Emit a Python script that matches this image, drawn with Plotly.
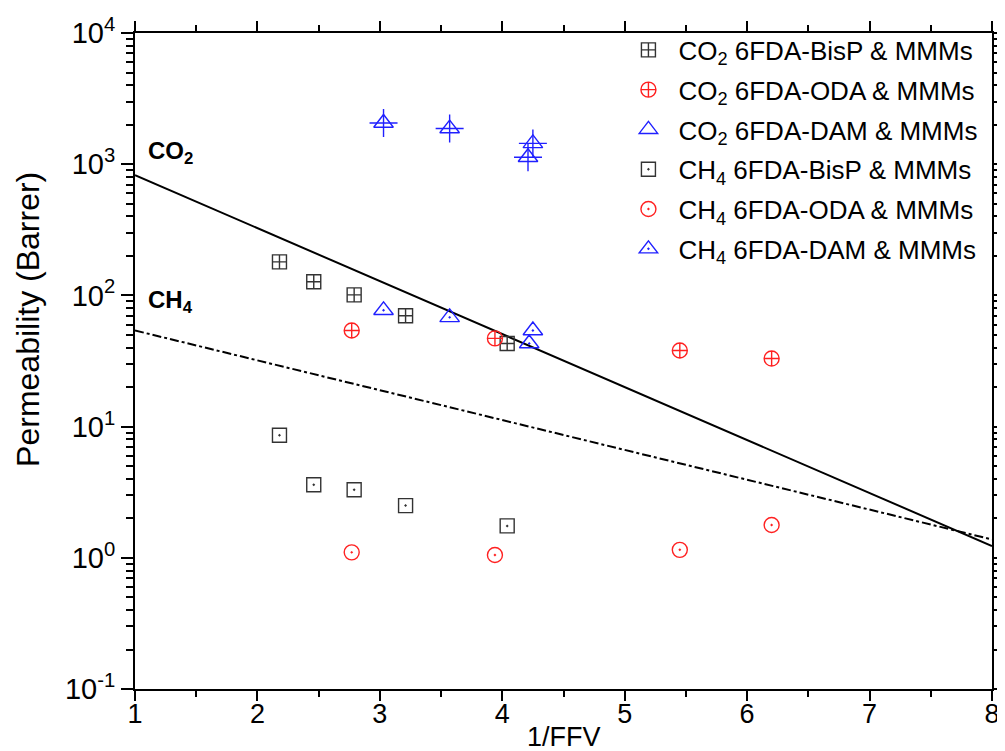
import plotly.graph_objects as go

# ---- data ----
co2_bisp_x = [2.18, 2.46, 2.79, 3.21, 4.04]
co2_bisp_y = [180, 127, 101, 70, 43]
co2_oda_x = [2.77, 3.94, 5.45, 6.20]
co2_oda_y = [54, 47, 38, 33]
co2_dam_x = [3.03, 3.57, 4.25, 4.21]
co2_dam_y = [2060, 1870, 1440, 1130]
ch4_bisp_x = [2.18, 2.46, 2.79, 3.21, 4.04]
ch4_bisp_y = [8.6, 3.6, 3.3, 2.5, 1.75]
ch4_oda_x = [2.77, 3.94, 5.45, 6.20]
ch4_oda_y = [1.1, 1.05, 1.15, 1.78]
ch4_dam_x = [3.03, 3.57, 4.25, 4.22]
ch4_dam_y = [77, 68, 54, 43]

co2_line_x = [1, 8]
co2_line_y = [825, 1.23]
ch4_line_x = [1, 8]
ch4_line_y = [54, 1.38]

y_tickvals = [0.1, 1, 10, 100, 1000, 10000]
y_ticktext = ["10<sup>-1</sup>", "10<sup>0</sup>", "10<sup>1</sup>", "10<sup>2</sup>",
              "10<sup>3</sup>", "10<sup>4</sup>"]
x_tickvals = [1, 2, 3, 4, 5, 6, 7, 8]

FONT = "Liberation Sans, Arial, sans-serif"
BLUE = "#2020ff"
RED = "#ff2020"
BLACK = "#333333"

fig = go.Figure()

fig.add_trace(go.Scatter(x=co2_line_x, y=co2_line_y, mode="lines",
                         line=dict(color="black", width=2), showlegend=False))
fig.add_trace(go.Scatter(x=ch4_line_x, y=ch4_line_y, mode="lines",
                         line=dict(color="black", width=2, dash="dashdot"), showlegend=False))

def mk(sym, color, size=14):
    return dict(symbol=sym, size=size, color=color, line=dict(color=color, width=1.4))

series = [
    (co2_bisp_x, co2_bisp_y, "CO<sub>2</sub> 6FDA-BisP & MMMs", "square-cross-open", BLACK, 14),
    (co2_oda_x, co2_oda_y, "CO<sub>2</sub> 6FDA-ODA & MMMs", "circle-cross-open", RED, 15),
    (co2_dam_x, co2_dam_y, "CO<sub>2</sub> 6FDA-DAM & MMMs", "triangle-up-open", BLUE, 17),
    (ch4_bisp_x, ch4_bisp_y, "CH<sub>4</sub> 6FDA-BisP & MMMs", "square-open-dot", BLACK, 14),
    (ch4_oda_x, ch4_oda_y, "CH<sub>4</sub> 6FDA-ODA & MMMs", "circle-open-dot", RED, 15),
    (ch4_dam_x, ch4_dam_y, "CH<sub>4</sub> 6FDA-DAM & MMMs", "triangle-up-open-dot", BLUE, 17),
]
for i, (xs, ys, name, sym, col, sz) in enumerate(series):
    fig.add_trace(go.Scatter(x=xs, y=ys, mode="markers", name=name, legendgroup=f"g{i}",
                             marker=mk(sym, col, sz)))

# crosshair overlay for CO2 DAM triangles
fig.add_trace(go.Scatter(x=co2_dam_x, y=co2_dam_y, mode="markers", showlegend=False,
                         legendgroup="g2",
                         marker=dict(symbol="cross-thin-open", size=20, color=BLUE,
                                     line=dict(color=BLUE, width=1.4))))

fig.add_annotation(x=1.09, y=3.09, xref="x", yref="y", text="<b>CO<sub>2</sub></b>",
                   showarrow=False, xanchor="left", font=dict(family=FONT, size=24, color="black"))
fig.add_annotation(x=1.09, y=1.95, xref="x", yref="y", text="<b>CH<sub>4</sub></b>",
                   showarrow=False, xanchor="left", font=dict(family=FONT, size=24, color="black"))
# axis titles placed as in the reference
fig.add_annotation(x=-0.125, y=0.564, xref="paper", yref="paper", text="Permeability (Barrer)",
                   textangle=-90, showarrow=False, xanchor="center", yanchor="middle",
                   font=dict(family=FONT, size=32, color="black"))
fig.add_annotation(x=0.5, y=-0.073, xref="paper", yref="paper", text="1/FFV",
                   showarrow=False, xanchor="center", yanchor="middle",
                   font=dict(family=FONT, size=27, color="black"))

axis_common = dict(showline=True, linecolor="black", linewidth=2, mirror="allticks",
                   ticks="outside", tickcolor="black", tickwidth=2, showgrid=False,
                   zeroline=False, automargin=False)

fig.update_xaxes(range=[1, 8], tickvals=x_tickvals, ticklen=10, ticklabelstandoff=-10,
                 tickfont=dict(family=FONT, size=27, color="black"),
                 minor=dict(ticks="outside", ticklen=6, tickwidth=1.5, tickcolor="black", dtick=0.5),
                 **axis_common)
fig.update_yaxes(type="log", range=[-1, 4], tickvals=y_tickvals, ticktext=y_ticktext, ticklen=12,
                 tickfont=dict(family=FONT, size=29, color="black"),
                 minor=dict(ticks="outside", ticklen=7, tickwidth=1.5, tickcolor="black", dtick="D1"),
                 **axis_common)

fig.update_layout(
    width=997, height=743,
    margin=dict(l=127, r=13, t=25, b=62, autoexpand=False),
    plot_bgcolor="white", paper_bgcolor="white",
    font=dict(family=FONT, color="black"),
    legend=dict(x=0.99, y=1.01, xanchor="right", yanchor="top", bgcolor="rgba(0,0,0,0)",
                font=dict(family=FONT, size=26, color="black"), itemwidth=50,
                tracegroupgap=3),
)

fig.write_html("out.html")
